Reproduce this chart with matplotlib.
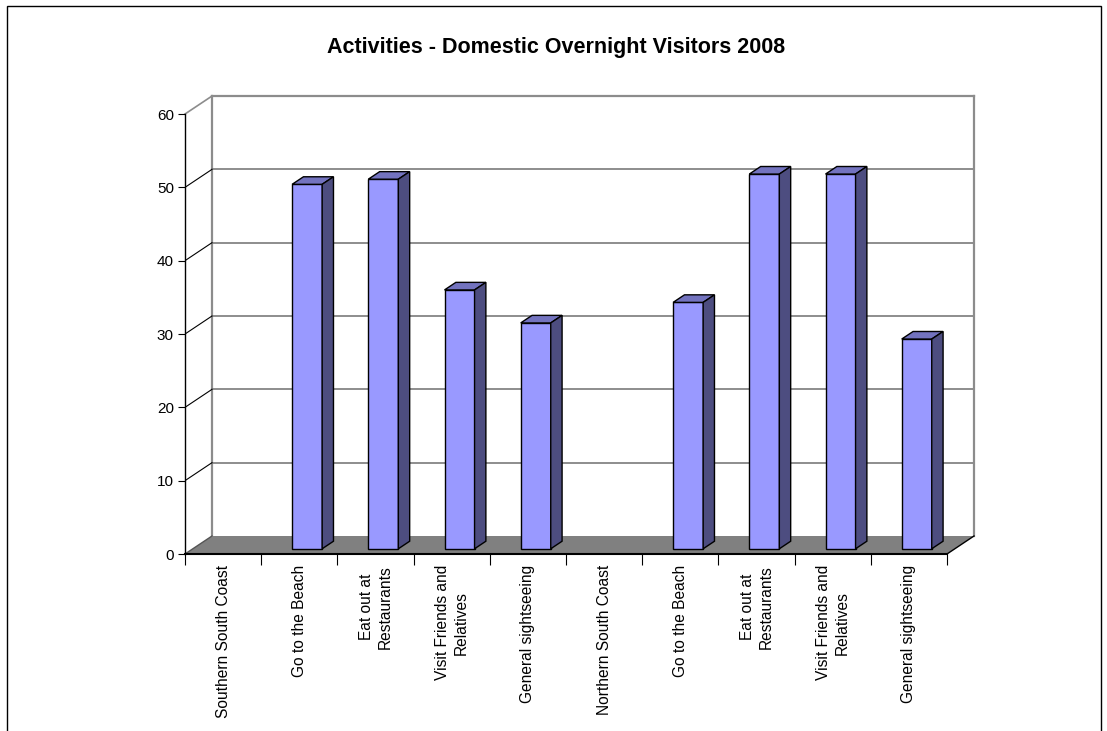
import numpy as np
import matplotlib.pyplot as plt
from matplotlib.patches import Polygon, Rectangle

categories = ["Southern South Coast", "Go to the Beach", "Eat out at\nRestaurants",
              "Visit Friends and\nRelatives", "General sightseeing",
              "Northern South Coast", "Go to the Beach", "Eat out at\nRestaurants",
              "Visit Friends and\nRelatives", "General sightseeing"]
values = [np.nan, 49.7, 50.4, 35.3, 30.8, np.nan, 33.6, 51.1, 51.1, 28.6]
y_ticks = [0, 10, 20, 30, 40, 50, 60]
title = "Activities - Domestic Overnight Visitors 2008"

plt.rcParams['font.family'] = ['Liberation Sans', 'DejaVu Sans']

fig = plt.figure(figsize=(11.07, 7.31), dpi=100)
ax = fig.add_axes([185 / 1107, 177 / 731, 788 / 1107, 458 / 731])
ax.set_xlim(0, 788 / 76.2)
ax.set_ylim(0, 458 / 7.333)
ax.patch.set_visible(False)

n = len(categories)
ymax = y_ticks[-1]
# oblique depth of the chart box (in data units)
dx, dy = 27 / 76.2, 18 / 7.333

# floor
ax.add_patch(Polygon([(0, 0), (n, 0), (n + dx, dy), (dx, dy)], closed=True,
                     fc="#808080", ec="none", zorder=1, clip_on=False))
ax.plot([n, n + dx], [0, dy], color="black", lw=1, zorder=2, clip_on=False)
ax.plot([0, dx], [0, dy], color="#555555", lw=1, zorder=2, clip_on=False)

# back wall and gridlines
wall = "#8c8c8c"
ax.plot([dx, dx], [dy, ymax + dy], color=wall, lw=1.6, zorder=1, clip_on=False)
ax.plot([n + dx, n + dx], [dy, ymax + dy], color=wall, lw=1.6, zorder=1, clip_on=False)
ax.plot([dx, n + dx], [ymax + dy, ymax + dy], color=wall, lw=1.6, zorder=1, clip_on=False)
ax.plot([0, dx], [ymax, ymax + dy], color=wall, lw=1.2, zorder=1, clip_on=False)
for v in y_ticks[1:-1]:
    ax.plot([dx, n + dx], [v + dy, v + dy], color="#7a7a7a", lw=1.2, zorder=1)
    ax.plot([0, dx], [v, v + dy], color="black", lw=0.8, zorder=1)

# bars
bw = 0.394
bd = 0.42
f = 0.29
for i, v in enumerate(values):
    if np.isnan(v):
        continue
    x0 = i + 0.5 - bw / 2 + f * dx
    y0 = f * dy
    ax.bar(x0, v, width=bw, bottom=y0, align="edge", color="#9999FF",
           edgecolor="black", linewidth=1, zorder=3)
    top = [(x0, y0 + v), (x0 + bw, y0 + v),
           (x0 + bw + bd * dx, y0 + v + bd * dy), (x0 + bd * dx, y0 + v + bd * dy)]
    side = [(x0 + bw, y0), (x0 + bw + bd * dx, y0 + bd * dy),
            (x0 + bw + bd * dx, y0 + v + bd * dy), (x0 + bw, y0 + v)]
    ax.add_patch(Polygon(top, closed=True, fc="#7373BF", ec="black", lw=1, zorder=3))
    ax.add_patch(Polygon(side, closed=True, fc="#4D4D80", ec="black", lw=1, zorder=3))

# axes
for s in ["top", "right"]:
    ax.spines[s].set_visible(False)
ax.spines["left"].set_bounds(0, ymax)
ax.spines["bottom"].set_bounds(0, n)
ax.spines["left"].set_linewidth(1)
ax.spines["bottom"].set_linewidth(1.5)
ax.set_yticks(y_ticks)
ax.tick_params(axis="y", direction="out", length=5, labelsize=11, pad=3)
ax.set_xticks(range(n + 1), labels=[""] * (n + 1))
ax.tick_params(axis="x", which="major", direction="out", length=8)
ax.set_xticks(np.arange(n) + 0.5, labels=categories, minor=True)
ax.tick_params(axis="x", which="minor", length=0, labelsize=11.2, pad=8)
for lab in ax.get_xticklabels(minor=True):
    lab.set_rotation(90)
    lab.set_va("top")
    lab.set_ha("center")
    lab.set_multialignment("center")
    lab.set_linespacing(1.3)

fig.text(556 / 1107, 1 - 48 / 731, title, ha="center", va="center",
         fontsize=15.5, fontweight="bold")

# chart frame
fig.add_artist(Rectangle((6.5 / 1107, -0.05), (1101 - 6.5) / 1107, 1.05 - 6.5 / 731,
                         transform=fig.transFigure, fill=False, ec="black", lw=1))

plt.savefig("out.png", dpi=100)
